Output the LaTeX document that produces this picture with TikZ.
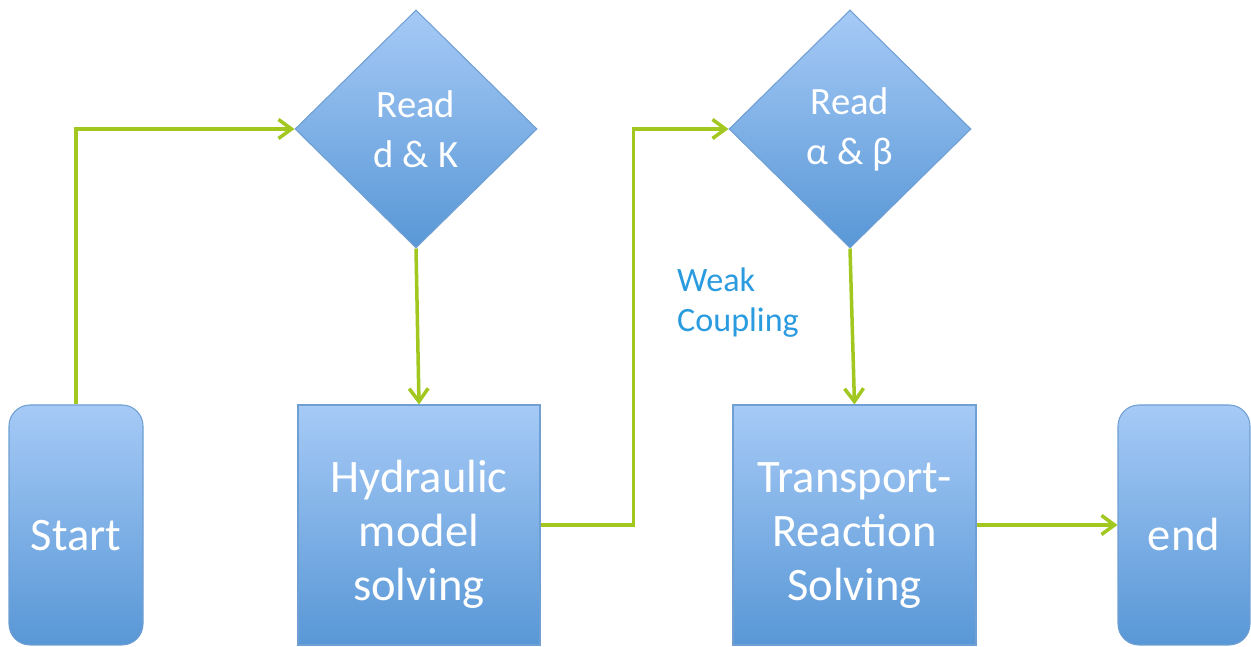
\documentclass[tikz,border=0pt]{standalone}
\usepackage{fontspec}
\setmainfont{Carlito}
\usepackage{xcolor}
\usetikzlibrary{positioning,calc,arrows.meta,shapes.geometric}
\definecolor{boxtop}{HTML}{A6CAF6}
\definecolor{boxbot}{HTML}{5897D6}
\definecolor{boxline}{HTML}{6F9FD3}
\definecolor{flowgreen}{HTML}{A2C71E}
\definecolor{notecolor}{HTML}{2A9BDE}
\newcommand{\toplift}{\rule{0pt}{29pt}}

\begin{document}
\begin{tikzpicture}[
  >={Straight Barb[length=2.6mm,width=3.8mm]},
  block/.style={
    draw=boxline, line width=0.6pt,
    top color=boxtop, bottom color=boxbot,
    minimum height=4.8cm, align=center,
    text=white, font=\fontsize{26.5}{30.5}\selectfont,
  },
  terminal/.style={block, rounded corners=0.42cm, minimum width=#1},
  process/.style={block, minimum width=#1},
  readbox/.style={
    draw=boxline, line width=0.6pt,
    top color=boxtop, bottom color=boxbot,
    diamond, aspect=1, inner sep=0pt,
    minimum width=4.84cm, minimum height=4.76cm,
    align=center, text=white, font=\fontsize{22}{28.5}\selectfont,
  },
  flow/.style={->, line width=2pt, color=flowgreen},
]
\useasboundingbox (0,0) rectangle (25.02,12.94);

% --- boxes ----------------------------------------------------------
\node[terminal=2.68cm] (S) at (1.52,2.44)  {\toplift Start};
\node[process=4.84cm]  (H) at (8.38,2.44)  {\toplift Hydraulic\\model\\solving};
\node[process=4.86cm]  (T) at (17.09,2.44) {\toplift Transport-\\Reaction\\Solving};
\node[terminal=2.64cm] (E) at (23.68,2.44) {\toplift end};

% --- inputs ---------------------------------------------------------
\node[readbox] (RD) at (8.32,10.36) {Read\\d \& K};
\node[readbox] (RA) at (17.0,10.36) {Read\\α \& β};

\node[align=left, text=notecolor, font=\fontsize{19.4}{22.7}\selectfont,
      anchor=west] (W) at (13.42,6.88) {Weak\\Coupling};

% --- connectors -----------------------------------------------------
\draw[flow] (S.north) |- (RD.west);
\draw[flow] (RD.south) -- (H.north);
\draw[flow] (H.east) -- ++(1.86,0) |- (RA.west);
\draw[flow] (RA.south) -- (T.north);
\draw[flow] (T.east) -- (E.west);

\end{tikzpicture}
\end{document}
